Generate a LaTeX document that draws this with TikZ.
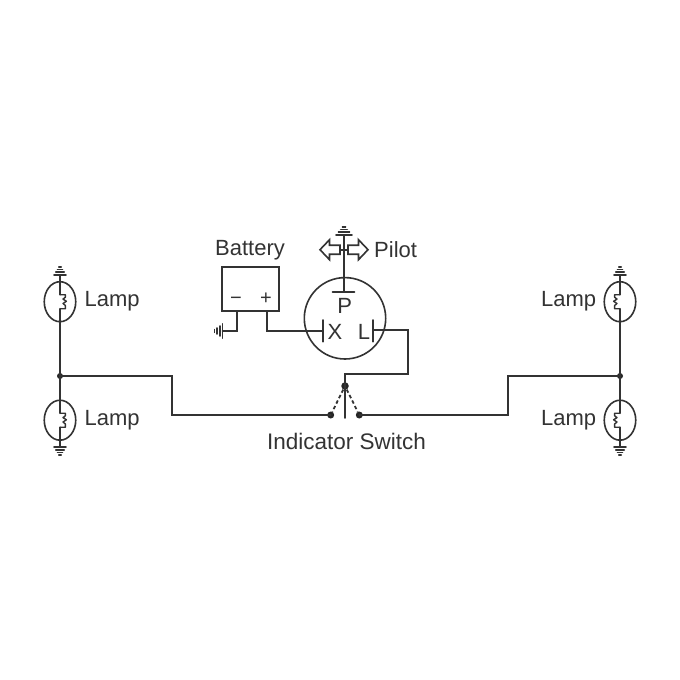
\documentclass[tikz,border=0pt]{standalone}
\usepackage{fontspec}
\setmainfont{Liberation Sans}
\usetikzlibrary{shapes.geometric}
\definecolor{ink}{HTML}{333333}
\tikzset{
  wire/.style={draw=ink,line width=1.6pt,line cap=round,line join=miter},
  thin wire/.style={draw=ink,line width=1.4pt,line join=round},
  label/.style={text=ink,inner sep=0pt,font=\fontsize{22}{26}\selectfont},
  bulb/.style={ellipse,draw=ink,line width=1.6pt,minimum width=31.5pt,minimum height=40pt,inner sep=0pt},
  jdot/.style={circle,fill=black!85,inner sep=0pt,minimum size=#1},
  sw dash/.style={draw=ink,line width=1.8pt,dash pattern=on 3.5pt off 2.6pt},
  gnd/.pic={
    \draw[wire] (-6,0) -- (6,0);
    \draw[wire] (-4.2,-2.8) -- (4.2,-2.8);
    \draw[wire] (-2.5,-5.6) -- (2.5,-5.6);
    \draw[wire] (-1.2,-8.2) -- (1.2,-8.2);
  },
  coil/.pic={
    \draw[thin wire] (0,-7) -- (5.4,-7) -- (5.4,-4.5) -- (3,-2.6) -- (6.4,-0.4) -- (3,1.8) -- (5.4,3.8) -- (5.4,7) -- (0,7);
  },
}
\begin{document}
\begin{tikzpicture}[x=1pt,y=-1pt]
\useasboundingbox (0,0) rectangle (680,680);
\fill[white] (0,0) rectangle (680,680);

% Lamps
\node[bulb] (lampTL) at (60,301.7) {};
\node[bulb] (lampBL) at (60,420.2) {};
\node[bulb] (lampTR) at (620,301.7) {};
\node[bulb] (lampBR) at (620,420.2) {};
\pic at (60,301.7) {coil};
\pic at (60,420.2) {coil};
\pic[xscale=-1] at (620,301.7) {coil};
\pic[xscale=-1] at (620,420.2) {coil};

\coordinate (gTL) at (60,275);
\coordinate (gBL) at (60,447);
\coordinate (gTR) at (620,275);
\coordinate (gBR) at (620,447);
\pic at (gTL) {gnd};
\pic[rotate=180] at (gBL) {gnd};
\pic at (gTR) {gnd};
\pic[rotate=180] at (gBR) {gnd};
\coordinate (cTLa) at (60,294.7);
\coordinate (cTLb) at (60,308.7);
\coordinate (cBLa) at (60,413.2);
\coordinate (cBLb) at (60,427.2);
\coordinate (cTRa) at (620,294.7);
\coordinate (cTRb) at (620,308.7);
\coordinate (cBRa) at (620,413.2);
\coordinate (cBRb) at (620,427.2);

\node[jdot=6pt] (jL) at (60,376) {};
\node[jdot=6pt] (jR) at (620,376) {};

\draw[wire] (gTL) -- (cTLa);
\draw[wire] (cTLb) -- (jL.center) -- (cBLa);
\draw[wire] (cBLb) -- (gBL);
\draw[wire] (gTR) -- (cTRa);
\draw[wire] (cTRb) -- (jR.center) -- (cBRa);
\draw[wire] (cBRb) -- (gBR);

% Switch
\node[jdot=7.5pt] (swC) at (345,386) {};
\node[jdot=7pt] (swL) at (330.7,415) {};
\node[jdot=7pt] (swR) at (359.3,415) {};
\coordinate (swEnd) at (345,418);
\draw[wire] (swC.center) -- (swEnd);
\draw[sw dash] (swC) -- (swL);
\draw[sw dash] (swC) -- (swR);
\draw[wire] (jL.center) -- (172,376) -- (172,415) -- (swL.center);
\draw[wire] (jR.center) -- (508,376) -- (508,415) -- (swR.center);

% Flasher unit
\node[circle,draw=ink,line width=1.6pt,minimum size=81.4pt,inner sep=0pt] (unit) at (345,318.3) {};
\coordinate (plateX) at (323,331);
\coordinate (plateL) at (373,330);
\coordinate (plateP) at (344,291.7);
\draw[wire] (323,320) -- (323,341.7);
\draw[wire] (373,320) -- (373,341.7);
\draw[wire] (332.5,291.7) -- (354.5,291.7);
\draw[wire] (plateL) -- (408,330) -- (408,374) -- (345,374) -- (swC.center);
\node[label,anchor=base] (tX) at (335,339) {X};
\node[label,anchor=base] (tL) at (364,339) {L};
\node[label,anchor=base] (tP) at (344.7,313) {P};

% Battery
\node[draw=ink,line width=1.6pt,minimum width=57pt,minimum height=44pt,inner sep=0pt] (batt) at (250.2,289) {};
\node[label,anchor=base] (tMinus) at (236,304) {\fontsize{20}{24}\selectfont −};
\node[label,anchor=base] (tPlus) at (266,304) {\fontsize{20}{24}\selectfont +};
\coordinate (bn) at (237,311);
\coordinate (bp) at (267,311);
\coordinate (gB) at (222.5,331);
\pic[rotate=90,xscale=1.2] at (gB) {gnd};
\draw[wire] (bn) -- (237,331) -- (gB);
\draw[wire] (bp) -- (267,331) -- (plateX);

% Pilot
\coordinate (gP) at (344,235);
\pic[xscale=1.33] at (gP) {gnd};
\draw[wire] (gP) -- (plateP);
\draw[wire,line join=miter]
  (340,245.2) -- (329.5,245.2) -- (329.5,239.7) -- (320,249.7) -- (329.5,259.7) -- (329.5,254.2) -- (340,254.2) -- cycle;
\draw[wire,line join=miter]
  (348,245.2) -- (358.5,245.2) -- (358.5,239.7) -- (368,249.7) -- (358.5,259.7) -- (358.5,254.2) -- (348,254.2) -- cycle;
\draw[wire] (340,249.7) -- (348,249.7);

% Labels
\node[label,anchor=base west] (tBatt) at (215,255.7) {Battery};
\node[label,anchor=base west] (tPilot) at (374,257) {Pilot};
\node[label,anchor=base west] (tL1) at (84.5,306.7) {Lamp};
\node[label,anchor=base west] (tL2) at (84.5,425.7) {Lamp};
\node[label,anchor=base west] (tL3) at (541,306.7) {Lamp};
\node[label,anchor=base west] (tL4) at (541,425.7) {Lamp};
\node[label,anchor=base,font=\fontsize{22.5}{26}\selectfont] (tSw) at (346.5,449) {Indicator Switch};
\end{tikzpicture}
\end{document}
